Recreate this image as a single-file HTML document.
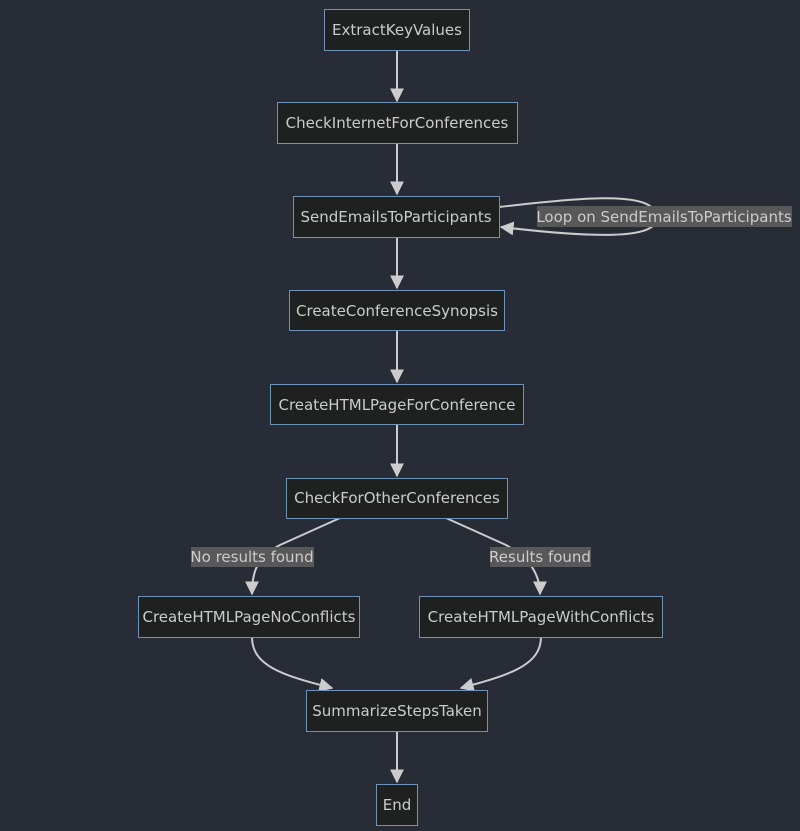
<!DOCTYPE html>
<html><head><style>
body{margin:0;background:#282c37;}
svg{display:block;font-family:"DejaVu Sans","Liberation Sans",sans-serif;}
.n rect{fill:#1f2020;stroke:#6e93b8;stroke-width:1;}
.n text{fill:#ccc;font-size:15px;text-anchor:middle;dominant-baseline:central;}
.e{fill:none;stroke:#ccc;stroke-width:2;}
.lb rect{fill:#585858;}
.lb text{fill:#ccc;font-size:15px;text-anchor:middle;dominant-baseline:central;}
</style></head><body>
<svg width="800" height="831" viewBox="0 0 800 831">
<defs><marker id="a" viewBox="0 0 10 10" refX="9" refY="5" markerWidth="7" markerHeight="7" orient="auto"><path d="M0,0L10,5L0,10z" fill="#ccc"/></marker></defs>
<g>
<path class="e" d="M397,50V101" marker-end="url(#a)"/>
<path class="e" d="M397,143V194" marker-end="url(#a)"/>
<path class="e" d="M397,237V288" marker-end="url(#a)"/>
<path class="e" d="M397,330V382" marker-end="url(#a)"/>
<path class="e" d="M397,424V476" marker-end="url(#a)"/>
<path class="e" d="M397,731V782" marker-end="url(#a)"/>
<path class="e" d="M499,207C560,200 630,192 650,206C660,214 660,222 650,228C630,240 560,234 501,227" marker-end="url(#a)"/>
<path class="e" d="M340,518L280,545C255,558 252,575 252,594" marker-end="url(#a)"/>
<path class="e" d="M446,518L506,545C530,558 540,575 540,594" marker-end="url(#a)"/>
<path class="e" d="M252,637C252,665 280,675 332,688" marker-end="url(#a)"/>
<path class="e" d="M541,637C541,665 510,675 461,688" marker-end="url(#a)"/>
</g>
<g class="lb">
<rect x="537" y="206" width="255" height="21"/><text x="664" y="217">Loop on SendEmailsToParticipants</text>
<rect x="191" y="547" width="123" height="20"/><text x="252" y="557">No results found</text>
<rect x="490" y="547" width="101" height="20"/><text x="540" y="557">Results found</text>
</g>
<g class="n">
<rect x="324.5" y="9.5" width="145" height="41"/><text x="397" y="30">ExtractKeyValues</text>
<rect x="277.5" y="102.5" width="240" height="41"/><text x="397" y="123">CheckInternetForConferences</text>
<rect x="293.5" y="196.5" width="206" height="41"/><text x="396" y="217">SendEmailsToParticipants</text>
<rect x="289.5" y="290.5" width="215" height="40"/><text x="397" y="311">CreateConferenceSynopsis</text>
<rect x="270.5" y="384.5" width="253" height="40"/><text x="397" y="405">CreateHTMLPageForConference</text>
<rect x="286.5" y="478.5" width="221" height="40"/><text x="397" y="498">CheckForOtherConferences</text>
<rect x="138.5" y="596.5" width="221" height="41"/><text x="249" y="617">CreateHTMLPageNoConflicts</text>
<rect x="419.5" y="596.5" width="243" height="41"/><text x="541" y="617">CreateHTMLPageWithConflicts</text>
<rect x="306.5" y="690.5" width="181" height="41"/><text x="397" y="711">SummarizeStepsTaken</text>
<rect x="376.5" y="784.5" width="41" height="41"/><text x="397" y="805">End</text>
</g>
</svg>
</body></html>
